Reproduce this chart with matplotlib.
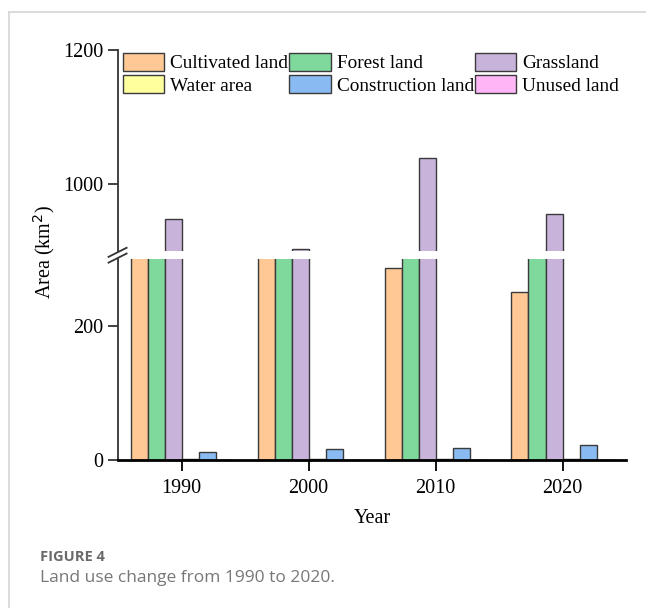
#!/usr/bin/env python3

import numpy as np
import matplotlib.pyplot as plt
from matplotlib.lines import Line2D
from matplotlib.patches import Rectangle

years = ["1990", "2000", "2010", "2020"]
land_types = ["Cultivated land", "Forest land", "Grassland",
              "Water area", "Construction land", "Unused land"]
colors = ["#FFC894", "#7FD99C", "#C8B3DA", "#FFFF9E", "#8ABAF2", "#FFB6F7"]

# area (km2) per land type, one value per year
cultivated = [330, 320, 287, 251]
forest = [480, 470, 460, 455]
grassland = [949, 903, 1039, 956]
water = [1, 1, 2, 2]
construction = [12, 16, 18, 23]
unused = [0.3, 0.3, 0.3, 0.3]
series = [cultivated, forest, grassland, water, construction, unused]

plt.rcParams['font.family'] = ['Liberation Serif', 'DejaVu Serif']
plt.rcParams['font.size'] = 14

fig = plt.figure(figsize=(6.46, 6.08), dpi=100)
ax_top = fig.add_axes([0.1831, 0.5864, 0.7859, 0.3306])
ax_bot = fig.add_axes([0.1831, 0.2434, 0.7859, 0.3301])

x = np.arange(len(years))
width = 0.134
for ax in (ax_top, ax_bot):
    for i, (vals, col, name) in enumerate(zip(series, colors, land_types)):
        ax.bar(x + (i - 2.5) * width, vals, width, color=col,
               edgecolor="#3a3a3a", linewidth=1.0, label=name)
    ax.set_xlim(-0.5, 3.5)
    ax.spines['top'].set_visible(False)
    ax.spines['right'].set_visible(False)
    ax.spines['left'].set_color("#333333")
    ax.spines['left'].set_linewidth(1.3)
    ax.tick_params(axis='y', direction='out', length=7, width=1.3,
                   color="#333333", labelsize=14.5)

ax_top.set_ylim(900, 1200)
ax_top.set_yticks([1000, 1200])
ax_top.spines['bottom'].set_visible(False)
ax_top.set_xticks([])

ax_bot.set_ylim(0, 300)
ax_bot.set_yticks([0, 200])
ax_bot.spines['bottom'].set_linewidth(2)
ax_bot.spines['bottom'].set_color("black")
ax_bot.set_xticks(x)
ax_bot.set_xticklabels(years)
ax_bot.tick_params(axis='x', direction='out', length=8, width=1.3,
                   labelsize=14.5, pad=6)

# legend reads row by row, so hand it the entries column by column
ncol = 3
order = [r * ncol + c for c in range(ncol) for r in range(2)]
handles = [Rectangle((0, 0), 1, 1, facecolor=colors[k], edgecolor="#3a3a3a",
                     linewidth=1.0) for k in order]
labels = [land_types[k] for k in order]
ax_top.legend(handles, labels, ncol=ncol, loc='upper left',
              bbox_to_anchor=(-0.006, 1.028), frameon=False, fontsize=13.9,
              handlelength=2.15, handleheight=1.1, handletextpad=0.3,
              columnspacing=0.05, labelspacing=0.12, borderpad=0.2,
              borderaxespad=0.2)

# axis break marks on the left spine
for dy in (0.0, 0.0095):
    fig.add_artist(Line2D([0.168, 0.196], [0.568 + dy, 0.583 + dy],
                          color="#333333", linewidth=1.3))

fig.text(0.068, 0.586, "Area (km$^2$)", rotation=90, ha='center',
         va='center', fontsize=14.5)
fig.text(0.576, 0.148, "Year", ha='center', va='center', fontsize=14.5)

fig.text(0.062, 0.084, "FIGURE 4", fontsize=10.5, fontweight='bold',
         color="#6a6a6a", family=['Open Sans', 'DejaVu Sans'], va='center')
fig.text(0.062, 0.050, "Land use change from 1990 to 2020.", fontsize=12.5,
         color="#777777", family=['Open Sans', 'DejaVu Sans'], va='center')

# page frame lines
fig.add_artist(Line2D([0.014, 1.0], [0.980, 0.980], color="#d4d4d4",
                      linewidth=1.2))
fig.add_artist(Line2D([0.014, 0.014], [0.0, 0.980], color="#d4d4d4",
                      linewidth=1.2))

plt.savefig("out.png", dpi=100)
